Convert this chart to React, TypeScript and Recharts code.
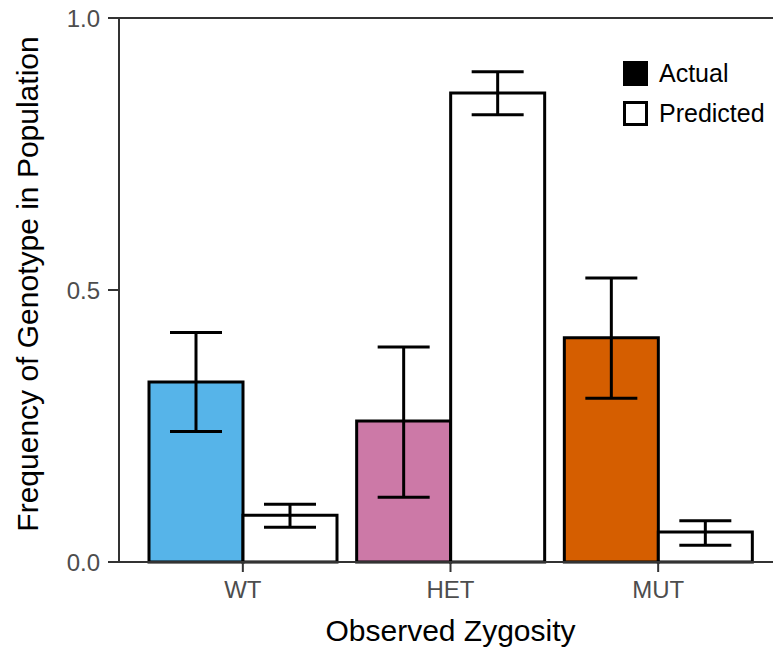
import { Bar, BarChart, Cell, ErrorBar, Legend, ReferenceLine, XAxis, YAxis, Label } from 'recharts'

const categories = ['WT', 'HET', 'MUT']
const actual = [0.331, 0.259, 0.412]
const actualLow = [0.24, 0.119, 0.301]
const actualHigh = [0.422, 0.395, 0.522]
const predicted = [0.086, 0.862, 0.055]
const predictedLow = [0.064, 0.822, 0.031]
const predictedHigh = [0.106, 0.901, 0.076]
const yTicks = [0, 0.5, 1]

const genotypeColors = ['#56B4E9', '#CC79A7', '#D55E00']

const data = categories.map((name, i) => ({
  name,
  actual: actual[i],
  actualErr: [actual[i] - actualLow[i], actualHigh[i] - actual[i]],
  predicted: predicted[i],
  predictedErr: [predicted[i] - predictedLow[i], predictedHigh[i] - predicted[i]],
}))

const font = '"Liberation Sans", Arial, sans-serif'
const axisColor = '#333333'
const tickStyle = { fill: '#4D4D4D', fontSize: 24, fontFamily: font }

function LegendBox() {
  const row = { display: 'flex', alignItems: 'center', height: 40 } as const
  const text = { marginLeft: 11, fontSize: 25, fontFamily: font, color: '#000' }
  return (
    <div>
      <div style={row}>
        <div style={{ width: 25, height: 25, background: '#000', boxSizing: 'border-box' }} />
        <span style={text}>Actual</span>
      </div>
      <div style={row}>
        <div style={{ width: 25, height: 25, background: '#fff', border: '3px solid #000', boxSizing: 'border-box' }} />
        <span style={text}>Predicted</span>
      </div>
    </div>
  )
}

export default function App() {
  return (
    <div style={{ position: 'absolute', left: 0, top: 0, width: 773, height: 647, overflow: 'hidden', background: '#fff' }}>
      <BarChart
        width={782}
        height={647}
        data={data}
        margin={{ top: 18, right: 0, bottom: 0, left: 0 }}
        barCategoryGap={10}
        barGap={0}
      >
        <XAxis
          dataKey="name"
          height={85}
          padding={{ left: 20, right: 20 }}
          tick={tickStyle}
          tickSize={10}
          tickMargin={9}
          axisLine={{ stroke: axisColor, strokeWidth: 2 }}
          tickLine={{ stroke: axisColor, strokeWidth: 2 }}
        >
          <Label
            content={({ viewBox }: any) => (
              <text
                x={viewBox.x + viewBox.width / 2}
                y={641}
                textAnchor="middle"
                fontSize={30}
                fontFamily={font}
                fill="#000"
              >
                Observed Zygosity
              </text>
            )}
          />
        </XAxis>
        <YAxis
          width={119}
          domain={[0, 1]}
          ticks={yTicks}
          tickFormatter={(v: number) => v.toFixed(1)}
          tick={tickStyle}
          tickSize={11}
          tickMargin={8}
          axisLine={{ stroke: axisColor, strokeWidth: 2 }}
          tickLine={{ stroke: axisColor, strokeWidth: 2 }}
        >
          <Label
            content={({ viewBox }: any) => {
              const cy = viewBox.y + viewBox.height / 2 - 6
              return (
                <text
                  x={27}
                  y={cy}
                  transform={`rotate(-90 27 ${cy})`}
                  textAnchor="middle"
                  dominantBaseline="central"
                  fontSize={30}
                  fontFamily={font}
                  fill="#000"
                >
                  Frequency of Genotype in Population
                </text>
              )
            }}
          />
        </YAxis>
        <ReferenceLine y={1} stroke={axisColor} strokeWidth={2} />
        <Legend
          layout="vertical"
          align="center"
          verticalAlign="middle"
          wrapperStyle={{ top: 53, left: 623, width: 160, height: 80 }}
          content={() => <LegendBox />}
        />
        <Bar dataKey="actual" stroke="#000" strokeWidth={3} isAnimationActive={false}>
          {data.map((d, i) => (
            <Cell key={d.name} fill={genotypeColors[i]} />
          ))}
          <ErrorBar dataKey="actualErr" width={26} stroke="#000" strokeWidth={3} isAnimationActive={false} />
        </Bar>
        <Bar dataKey="predicted" fill="#fff" stroke="#000" strokeWidth={3} isAnimationActive={false}>
          <ErrorBar dataKey="predictedErr" width={26} stroke="#000" strokeWidth={3} isAnimationActive={false} />
        </Bar>
      </BarChart>
    </div>
  )
}
